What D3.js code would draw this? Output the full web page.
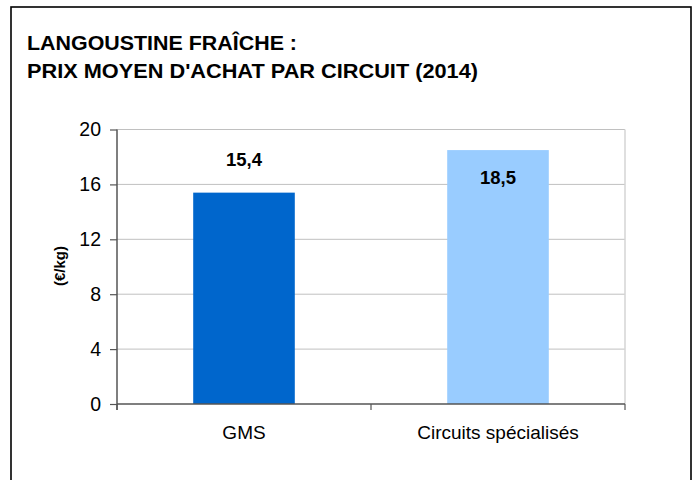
<!DOCTYPE html>
<html>
<head>
<meta charset="utf-8">
<script src="https://cdn.jsdelivr.net/npm/d3@7"></script>
<style>
  html, body { margin: 0; padding: 0; background: #fff; }
  svg { display: block; font-family: Arial, "Liberation Sans", sans-serif; }
</style>
</head>
<body>
<svg id="chart" width="699" height="480"></svg>
<script>
// Langoustine fraîche : prix moyen d'achat par circuit (2014), €/kg
const categories = ["GMS", "Circuits spécialisés"];
const prices = [15.4, 18.5];
const labels = ["15,4", "18,5"];
const yTicks = [0, 4, 8, 12, 16, 20];
const titleLines = ["LANGOUSTINE FRAÎCHE :", "PRIX MOYEN D'ACHAT PAR CIRCUIT (2014)"];
const barColors = ["#0066CC", "#99CCFF"];

const svg = d3.select("#chart");
const plot = { left: 117, right: 625, top: 129.5, bottom: 404 };

// outer frame
svg.append("rect")
  .attr("x", 11).attr("y", 7)
  .attr("width", 680).attr("height", 500)
  .attr("fill", "#fff")
  .attr("stroke", "#000").attr("stroke-width", 1.6);

// title
const titleWidths = [270, 451];
svg.append("g").selectAll("text")
  .data(titleLines)
  .join("text")
  .attr("x", 27)
  .attr("y", (d, i) => 49.5 + i * 28)
  .attr("font-size", 19.5)
  .attr("font-weight", "bold")
  .attr("textLength", (d, i) => titleWidths[i])
  .attr("lengthAdjust", "spacingAndGlyphs")
  .attr("fill", "#000")
  .text(d => d);

const x = d3.scaleBand()
  .domain(categories)
  .range([plot.left, plot.right])
  .padding(0);

const y = d3.scaleLinear()
  .domain([0, 20])
  .range([plot.bottom, plot.top]);

// gridlines
svg.append("g").selectAll("line")
  .data(yTicks.filter(t => t > 0))
  .join("line")
  .attr("x1", plot.left).attr("x2", plot.right)
  .attr("y1", d => y(d)).attr("y2", d => y(d))
  .attr("stroke", "#c0c0c0").attr("stroke-width", 1);

// plot area right border
svg.append("line")
  .attr("x1", plot.right).attr("x2", plot.right)
  .attr("y1", plot.top).attr("y2", plot.bottom)
  .attr("stroke", "#d4d4d4").attr("stroke-width", 1.5);

// bars
const barW = x.bandwidth() * 0.4;
svg.append("g").selectAll("rect")
  .data(categories)
  .join("rect")
  .attr("x", d => x(d) + (x.bandwidth() - barW) / 2)
  .attr("width", barW)
  .attr("y", (d, i) => y(prices[i]))
  .attr("height", (d, i) => y(0) - y(prices[i]))
  .attr("fill", (d, i) => barColors[i]);

// value labels
const labelShift = [-27, 34];
svg.append("g").selectAll("text")
  .data(categories)
  .join("text")
  .attr("x", d => x(d) + x.bandwidth() / 2)
  .attr("y", (d, i) => y(prices[i]) + labelShift[i])
  .attr("text-anchor", "middle")
  .attr("font-size", 18.5)
  .attr("font-weight", "bold")
  .attr("fill", "#000")
  .text((d, i) => labels[i]);

// y axis
const yAxis = svg.append("g")
  .attr("transform", `translate(${plot.left},0)`)
  .call(d3.axisLeft(y).tickValues(yTicks).tickSize(7).tickPadding(9).tickFormat(d3.format("d")));
yAxis.select(".domain").attr("stroke", "#555").attr("stroke-width", 1.5)
  .attr("d", `M0,${plot.top}V${plot.bottom + 6}`);
yAxis.selectAll(".tick line").attr("stroke", "#555").attr("stroke-width", 1.2);
yAxis.selectAll(".tick text").attr("font-size", 19.5).attr("fill", "#000")
  .attr("font-family", "Arial, 'Liberation Sans', sans-serif");

// x axis
const xAxis = svg.append("g")
  .attr("transform", `translate(0,${plot.bottom})`);
xAxis.append("line")
  .attr("x1", plot.left).attr("x2", plot.right)
  .attr("stroke", "#555").attr("stroke-width", 1.5);
const bounds = [plot.left].concat(categories.map(c => x(c) + x.bandwidth()));
xAxis.selectAll("line.tk")
  .data(bounds)
  .join("line")
  .attr("class", "tk")
  .attr("x1", d => d).attr("x2", d => d)
  .attr("y1", 0).attr("y2", 6)
  .attr("stroke", "#555").attr("stroke-width", 1.2);
xAxis.selectAll("text")
  .data(categories)
  .join("text")
  .attr("x", d => x(d) + x.bandwidth() / 2)
  .attr("y", 35)
  .attr("text-anchor", "middle")
  .attr("font-size", 19)
  .attr("fill", "#000")
  .text(d => d);

// y axis title
svg.append("text")
  .attr("transform", `translate(65,266) rotate(-90)`)
  .attr("text-anchor", "middle")
  .attr("font-size", 15)
  .attr("font-weight", "bold")
  .attr("fill", "#000")
  .text("(€/kg)");
</script>
</body>
</html>
